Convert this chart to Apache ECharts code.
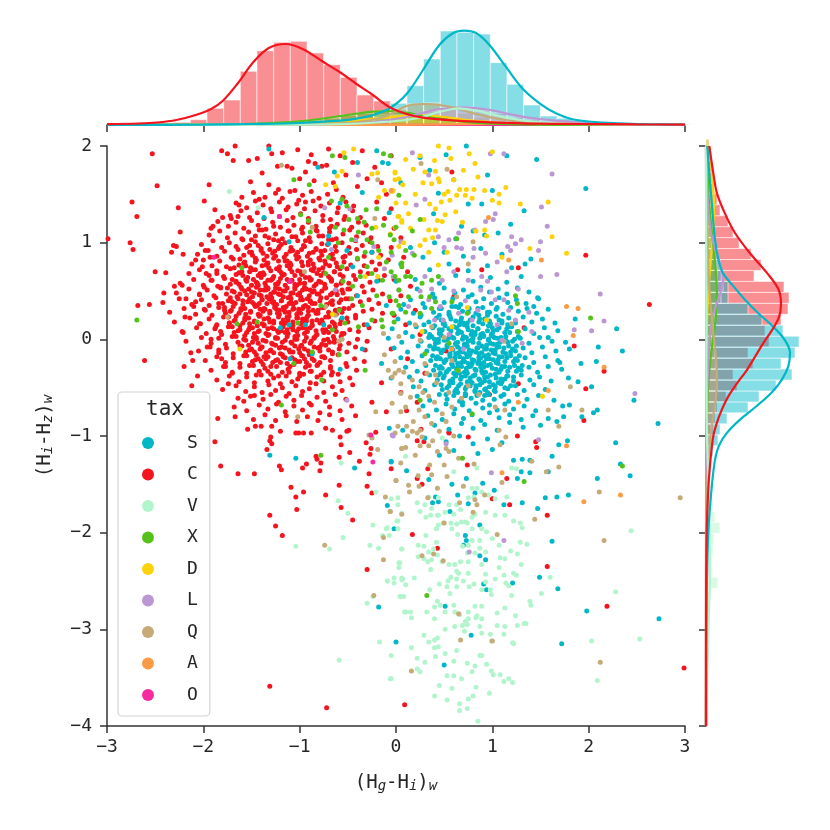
<!DOCTYPE html>
<html><head><meta charset="utf-8">
<script src="https://cdn.jsdelivr.net/npm/echarts@6/dist/echarts.min.js"></script>
<style>html,body{margin:0;padding:0;background:#fff}#c{width:830px;height:830px}</style>
</head><body><div id="c"></div>
<script>
// ---------- categories & ticks ----------
const categories = ['S','C','V','X','D','L','Q','A','O'];
const xTicks = [-3,-2,-1,0,1,2,3];
const yTicks = [-4,-3,-2,-1,0,1,2];

// ---------- scatter points (flat x,y lists) ----------
const pts_C = [
-2.53,1.92,-2.48,1.59,-2.74,1.42,-2.69,1.27,-2.26,1.36,-2.99,1.04,-2.76,1.0,-2.73,0.93,-2.24,1.11,-2.33,0.9,-2.31,0.97,-2.28,0.96,-2.21,0.88,-2.50,0.70,-2.39,0.69,-2.68,0.35,-2.56,0.36,-2.41,0.48,-2.30,0.55,-2.22,0.56,-2.18,0.42,-2.19,0.23,-2.21,0.07,-2.61,-0.22,-2.20,-0.28,-2.13,-0.14,-2.11,-0.22,-2.12,-0.48,-2.06,-0.38,-1.99,1.43,-1.94,1.60,-1.88,1.34,-1.81,1.95,-1.75,1.92,-1.67,2.0,-1.69,1.85,-1.80,1.26,-1.90,1.17,-1.92,1.15,-1.71,1.25,-1.64,1.27,-2.08,0.82,-1.98,0.92,-1.93,0.85,-2.01,0.75,-1.97,0.68,-1.99,0.54,-2.04,0.47,-2.08,0.39,-2.10,0.34,-2.04,0.16,-1.92,0.0,-1.96,-0.08,-1.84,-0.11,-1.86,0.68,-1.82,0.54,-1.91,0.61,-1.98,0.30,-1.84,0.37,-1.78,0.30,-1.73,0.17,-1.87,0.13,-1.82,0.08,-1.81,-0.20,-1.77,-0.28,-1.70,-0.35,-1.74,-0.46,-1.85,-0.82,-1.68,-0.70,-1.67,-0.80,-1.64,-0.61,-1.51,-0.59,-1.53,1.85,-1.44,1.87,-1.29,1.92,-1.32,2.0,-1.51,1.63,-1.39,1.72,-1.32,1.60,-1.22,1.55,-1.60,1.47,-1.63,1.39,-1.23,1.79,-1.13,1.79,-1.08,1.77,-0.94,1.73,-0.91,1.84,-0.77,1.79,-0.72,1.80,-0.84,1.82,-1.10,1.53,-1.01,1.44,-0.94,1.42,
-1.18,1.93,-1.02,1.96,-0.88,1.91,-0.70,1.97,
-1.54,-0.93,-1.46,-0.90,-1.40,-0.90,-1.29,-0.90,-1.20,-0.95,-1.04,-0.97,-1.01,-0.97,-0.96,-0.97,-0.88,-0.97,-1.30,-1.01,-1.29,-1.08,-1.31,-1.05,-1.88,-1.06,-1.82,-1.31,-1.64,-1.39,-1.47,-1.39,-1.34,-1.14,-1.21,-1.31,-1.19,-1.35,-1.09,-1.53,-1.04,-1.63,-0.96,-1.58,-1.03,-1.76,-1.31,-1.82,-1.25,-1.93,-1.18,-2.03,-0.97,-1.33,-0.93,-1.29,-0.83,-1.21,-0.82,-1.24,-0.78,-1.28,-0.79,-1.36,-0.73,-0.92,-0.66,-0.94,-0.58,-1.01,-0.57,-1.09,-0.59,-1.22,-0.48,-1.17,-0.51,-0.95,-0.49,-0.94,-0.38,-1.26,-0.73,-1.61,-0.59,-1.51,-0.57,-1.74,-0.45,-1.87,-0.30,-1.52,-0.25,-1.59,-0.28,-1.39,-0.27,-1.19,-0.26,-1.13,-0.31,-1.07,-0.21,-0.96,-0.05,-1.34,-0.30,-2.38,-1.31,-3.59,-0.72,-3.81,0.09,-3.78,
0.26,-0.93,0.55,-0.96,0.75,-1.01,1.26,-1.0,1.45,-1.06,1.46,-1.12,0.22,-1.05,0.29,-1.06,0.22,-1.44,0.27,-1.50,0.33,-1.34,0.74,-1.30,1.15,-1.44,1.18,-1.71,1.0,-1.65,1.57,-1.82,0.17,-2.02,0.43,-2.16,1.57,-2.35,2.19,-2.76,2.99,-3.40,-0.05,1.90,0.58,1.73,1.97,0.87,2.63,0.36,1.27,0.74,0.89,0.72,0.64,0.72,0.60,0.44,1.33,0.12,1.85,-0.07,2.16,-0.33,1.97,-0.51,1.95,-0.84,1.27,-0.46,0.97,-0.57,0.52,-0.12,0.72,-0.58,0.55,-0.97,0.11,-0.74,
-0.65,1.62,-0.52,1.70,-0.40,1.58,-0.30,1.66,-0.85,1.64,-1.00,1.66,-0.58,1.90,-0.45,1.83,-0.35,1.95,-0.22,1.78,-0.15,1.62,-0.10,1.50,-0.20,1.42,-0.05,1.35,-0.12,1.25,-0.02,1.15,0.05,1.05,-0.05,0.95,0.08,0.85,0.12,0.70,-0.02,0.62,0.15,0.55,0.05,0.45,0.20,0.30,-0.02,0.25,0.10,0.15,0.25,0.05,-0.05,-0.10,0.12,-0.20,0.30,-0.35,-0.15,-0.45,0.05,-0.55,0.22,-0.65,-0.25,-0.65,-0.10,-0.75,
-1.48,1.52,-1.36,1.47,-1.25,1.51,-1.18,1.46,-1.05,1.54,-0.97,1.49,-0.88,1.53,-0.80,1.46,-0.71,1.50,-0.62,1.55,-0.55,1.47,-1.42,1.45,
-1.66,1.41,-1.55,1.36,-1.46,1.43,-1.38,1.39,-1.30,1.35,-1.21,1.42,-1.12,1.37,-1.03,1.40,-0.95,1.35,-0.86,1.43,-0.78,1.38,-0.69,1.41,-0.60,1.36,-0.52,1.42,-0.44,1.38,
-1.72,1.28,-1.61,1.33,-1.52,1.26,-1.44,1.31,-1.37,1.25,-1.29,1.32,-1.21,1.27,-1.14,1.34,-1.07,1.26,-0.99,1.30,-0.91,1.25,-0.84,1.33,-0.76,1.28,-0.68,1.24,-0.61,1.31,-0.53,1.27,-0.45,1.33,-0.37,1.26,
-1.85,1.22,-1.74,1.17,-1.66,1.21,-1.58,1.15,-1.50,1.23,-1.43,1.18,-1.35,1.14,-1.28,1.21,-1.20,1.16,-1.13,1.23,-1.06,1.18,-0.98,1.14,-0.91,1.21,-0.83,1.17,-0.76,1.23,-0.69,1.15,-0.61,1.19,-0.54,1.24,-0.46,1.16,-0.39,1.21,-0.31,1.18,
-1.94,1.08,-1.83,1.12,-1.75,1.05,-1.67,1.10,-1.60,1.04,-1.53,1.11,-1.46,1.07,-1.39,1.13,-1.32,1.05,-1.25,1.09,-1.18,1.04,-1.11,1.12,-1.04,1.06,-0.97,1.10,-0.90,1.05,-0.83,1.13,-0.76,1.07,-0.69,1.11,-0.62,1.04,-0.55,1.09,-0.48,1.13,-0.41,1.06,-0.34,1.10,-0.26,1.05,
-2.02,0.98,-1.90,1.02,-1.81,0.95,-1.73,1.00,-1.66,0.96,-1.59,1.03,-1.52,0.97,-1.46,1.01,-1.40,0.94,-1.33,0.99,-1.27,1.03,-1.21,0.96,-1.15,1.00,-1.09,0.95,-1.02,1.02,-0.96,0.97,-0.89,1.01,-0.83,0.94,-0.77,0.99,-0.70,1.03,-0.63,0.96,-0.56,1.00,-0.49,0.95,-0.42,1.02,-0.35,0.97,-0.27,1.01,-0.19,0.96,
-2.06,0.88,-1.95,0.92,-1.86,0.86,-1.78,0.91,-1.71,0.85,-1.64,0.93,-1.58,0.87,-1.52,0.90,-1.46,0.84,-1.40,0.92,-1.34,0.86,-1.28,0.89,-1.22,0.94,-1.16,0.85,-1.10,0.91,-1.04,0.87,-0.98,0.93,-0.92,0.86,-0.86,0.90,-0.80,0.84,-0.74,0.92,-0.68,0.87,-0.62,0.91,-0.55,0.85,-0.48,0.89,-0.41,0.93,-0.33,0.86,-0.25,0.90,-0.16,0.87,
-2.12,0.78,-2.00,0.82,-1.91,0.76,-1.83,0.81,-1.76,0.75,-1.69,0.83,-1.63,0.77,-1.57,0.80,-1.51,0.74,-1.45,0.82,-1.39,0.76,-1.33,0.79,-1.27,0.84,-1.21,0.75,-1.15,0.81,-1.09,0.77,-1.03,0.83,-0.97,0.76,-0.91,0.80,-0.85,0.74,-0.79,0.82,-0.73,0.78,-0.67,0.84,-0.61,0.75,-0.54,0.80,-0.47,0.77,-0.40,0.83,-0.33,0.76,-0.25,0.80,-0.17,0.78,-0.08,0.82,
-2.15,0.68,-2.04,0.72,-1.94,0.66,-1.86,0.71,-1.79,0.65,-1.72,0.73,-1.66,0.67,-1.60,0.70,-1.54,0.64,-1.49,0.72,-1.43,0.66,-1.38,0.69,-1.32,0.74,-1.27,0.65,-1.21,0.71,-1.16,0.67,-1.10,0.73,-1.05,0.66,-0.99,0.70,-0.94,0.64,-0.88,0.72,-0.82,0.68,-0.76,0.74,-0.70,0.65,-0.64,0.70,-0.58,0.67,-0.51,0.73,-0.44,0.66,-0.37,0.70,-0.29,0.68,-0.21,0.72,-0.12,0.66,
-2.24,0.58,-2.10,0.62,-2.00,0.56,-1.92,0.61,-1.85,0.55,-1.78,0.63,-1.72,0.57,-1.66,0.60,-1.61,0.54,-1.56,0.62,-1.50,0.56,-1.45,0.59,-1.40,0.64,-1.35,0.55,-1.30,0.61,-1.25,0.57,-1.20,0.63,-1.15,0.56,-1.10,0.60,-1.05,0.54,-1.00,0.62,-0.95,0.58,-0.90,0.64,-0.85,0.55,-0.80,0.60,-0.74,0.57,-0.68,0.63,-0.62,0.56,-0.56,0.60,-0.49,0.58,-0.42,0.62,-0.35,0.55,-0.27,0.59,-0.18,0.61,
-2.28,0.48,-2.15,0.52,-2.04,0.46,-1.96,0.51,-1.89,0.45,-1.82,0.53,-1.76,0.47,-1.70,0.50,-1.65,0.44,-1.60,0.52,-1.55,0.46,-1.50,0.49,-1.45,0.54,-1.40,0.45,-1.35,0.51,-1.30,0.47,-1.25,0.53,-1.20,0.46,-1.15,0.50,-1.10,0.44,-1.05,0.52,-1.00,0.48,-0.95,0.54,-0.90,0.45,-0.85,0.50,-0.80,0.47,-0.74,0.53,-0.68,0.46,-0.62,0.50,-0.55,0.48,-0.48,0.52,-0.41,0.45,-0.33,0.49,-0.24,0.51,-0.14,0.47,
-2.42,0.38,-2.25,0.42,-2.12,0.36,-2.02,0.41,-1.94,0.35,-1.87,0.43,-1.80,0.37,-1.74,0.40,-1.69,0.34,-1.64,0.42,-1.59,0.36,-1.54,0.39,-1.49,0.44,-1.44,0.35,-1.39,0.41,-1.34,0.37,-1.29,0.43,-1.24,0.36,-1.19,0.40,-1.14,0.34,-1.09,0.42,-1.04,0.38,-0.99,0.44,-0.94,0.35,-0.89,0.40,-0.84,0.37,-0.78,0.43,-0.72,0.36,-0.66,0.40,-0.59,0.38,-0.52,0.42,-0.45,0.35,-0.37,0.39,-0.28,0.41,-0.18,0.37,-0.06,0.40,
-2.35,0.28,-2.20,0.32,-2.08,0.26,-1.99,0.31,-1.91,0.25,-1.84,0.33,-1.77,0.27,-1.71,0.30,-1.66,0.24,-1.61,0.32,-1.56,0.26,-1.51,0.29,-1.46,0.34,-1.41,0.25,-1.36,0.31,-1.31,0.27,-1.26,0.33,-1.21,0.26,-1.16,0.30,-1.11,0.24,-1.06,0.32,-1.01,0.28,-0.96,0.34,-0.91,0.25,-0.86,0.30,-0.81,0.27,-0.75,0.33,-0.69,0.26,-0.63,0.30,-0.56,0.28,-0.49,0.32,-0.42,0.25,-0.34,0.29,-0.25,0.31,-0.14,0.27,
-2.30,0.18,-2.14,0.22,-2.03,0.16,-1.94,0.21,-1.86,0.15,-1.79,0.23,-1.73,0.17,-1.67,0.20,-1.62,0.14,-1.57,0.22,-1.52,0.16,-1.47,0.19,-1.42,0.24,-1.37,0.15,-1.32,0.21,-1.27,0.17,-1.22,0.23,-1.17,0.16,-1.12,0.20,-1.07,0.14,-1.02,0.22,-0.97,0.18,-0.92,0.24,-0.87,0.15,-0.82,0.20,-0.76,0.17,-0.70,0.23,-0.64,0.16,-0.57,0.20,-0.50,0.18,-0.42,0.22,-0.33,0.15,-0.22,0.19,
-2.22,0.08,-2.07,0.12,-1.97,0.06,-1.88,0.11,-1.81,0.05,-1.74,0.13,-1.68,0.07,-1.62,0.10,-1.57,0.04,-1.52,0.12,-1.47,0.06,-1.42,0.09,-1.37,0.14,-1.32,0.05,-1.27,0.11,-1.22,0.07,-1.17,0.13,-1.12,0.06,-1.07,0.10,-1.02,0.04,-0.97,0.12,-0.92,0.08,-0.87,0.14,-0.82,0.05,-0.76,0.10,-0.70,0.07,-0.63,0.13,-0.56,0.06,-0.48,0.10,-0.39,0.08,-0.28,0.12,
-2.18,-0.02,-2.02,0.02,-1.92,-0.04,-1.84,0.01,-1.77,-0.05,-1.70,0.03,-1.64,-0.03,-1.58,0.00,-1.53,-0.06,-1.48,0.02,-1.43,-0.04,-1.38,-0.01,-1.33,0.04,-1.28,-0.05,-1.23,0.01,-1.18,-0.03,-1.13,0.03,-1.08,-0.04,-1.03,0.00,-0.98,-0.06,-0.93,0.02,-0.88,-0.02,-0.83,0.04,-0.77,-0.05,-0.71,0.00,-0.64,-0.03,-0.57,0.03,-0.49,-0.04,-0.40,0.00,-0.30,-0.02,
-2.05,-0.12,-1.93,-0.08,-1.84,-0.14,-1.76,-0.09,-1.69,-0.15,-1.62,-0.07,-1.56,-0.13,-1.50,-0.10,-1.45,-0.16,-1.40,-0.08,-1.35,-0.14,-1.30,-0.11,-1.25,-0.06,-1.20,-0.15,-1.15,-0.09,-1.10,-0.13,-1.05,-0.07,-1.00,-0.14,-0.95,-0.10,-0.90,-0.16,-0.85,-0.08,-0.79,-0.12,-0.73,-0.06,-0.66,-0.15,-0.59,-0.10,-0.51,-0.13,-0.42,-0.08,-0.32,-0.11,
-1.98,-0.22,-1.86,-0.18,-1.77,-0.24,-1.69,-0.19,-1.62,-0.25,-1.55,-0.17,-1.49,-0.23,-1.43,-0.20,-1.38,-0.26,-1.33,-0.18,-1.28,-0.24,-1.23,-0.21,-1.18,-0.16,-1.13,-0.25,-1.08,-0.19,-1.03,-0.23,-0.98,-0.17,-0.93,-0.24,-0.87,-0.20,-0.81,-0.26,-0.75,-0.18,-0.68,-0.22,-0.60,-0.16,-0.52,-0.25,-0.43,-0.20,-0.33,-0.23,
-1.92,-0.32,-1.79,-0.28,-1.70,-0.34,-1.62,-0.29,-1.55,-0.35,-1.48,-0.27,-1.42,-0.33,-1.36,-0.30,-1.30,-0.36,-1.24,-0.28,-1.18,-0.34,-1.12,-0.31,-1.06,-0.26,-1.00,-0.35,-0.94,-0.29,-0.88,-0.33,-0.82,-0.27,-0.75,-0.34,-0.68,-0.30,-0.60,-0.36,-0.51,-0.28,-0.41,-0.32,
-1.86,-0.42,-1.73,-0.38,-1.63,-0.44,-1.55,-0.39,-1.47,-0.45,-1.40,-0.37,-1.33,-0.43,-1.27,-0.40,-1.20,-0.46,-1.14,-0.38,-1.08,-0.44,-1.02,-0.41,-0.96,-0.36,-0.89,-0.45,-0.82,-0.39,-0.75,-0.43,-0.67,-0.37,-0.58,-0.44,-0.48,-0.40,
-1.80,-0.52,-1.66,-0.48,-1.56,-0.54,-1.47,-0.49,-1.39,-0.55,-1.32,-0.47,-1.25,-0.53,-1.18,-0.50,-1.11,-0.56,-1.04,-0.48,-0.97,-0.54,-0.90,-0.51,-0.83,-0.46,-0.75,-0.55,-0.66,-0.49,-0.56,-0.53,-0.45,-0.47,
-1.58,-0.64,-1.47,-0.58,-1.38,-0.62,-1.30,-0.57,-1.22,-0.65,-1.14,-0.59,-1.06,-0.63,-0.98,-0.58,-0.90,-0.66,-0.82,-0.60,-0.73,-0.64,-0.63,-0.57,-0.52,-0.62,
-1.55,-0.74,-1.42,-0.68,-1.33,-0.72,-1.24,-0.67,-1.15,-0.75,-1.06,-0.69,-0.97,-0.73,-0.88,-0.68,-0.79,-0.76,-0.69,-0.70,-0.58,-0.74,-0.46,-0.69,
-1.48,-0.83,-1.36,-0.78,-1.25,-0.84,-1.14,-0.79,-1.03,-0.85,-0.92,-0.80,-0.81,-0.84,-0.69,-0.78,-0.56,-0.83,-0.42,-0.79,
-1.55,0.95,-1.43,0.97,-1.31,0.93,-1.19,0.98,-1.07,0.92,-0.95,0.96,-0.83,0.93,-0.71,0.98,
-1.62,0.83,-1.49,0.87,-1.37,0.82,-1.25,0.86,-1.13,0.81,-1.01,0.85,-0.89,0.82,-0.77,0.87,-0.65,0.83,-0.53,0.86,
-1.68,0.74,-1.56,0.76,-1.46,0.72,-1.35,0.77,-1.24,0.73,-1.13,0.76,-1.02,0.71,-0.91,0.77,-0.80,0.72,-0.69,0.76,-0.58,0.73,
-1.70,0.62,-1.59,0.66,-1.48,0.62,-1.37,0.67,-1.28,0.63,-1.18,0.66,-1.08,0.61,-0.98,0.67,-0.88,0.62,-0.78,0.66,-0.67,0.62,-0.55,0.65,
-1.75,0.53,-1.63,0.57,-1.53,0.52,-1.43,0.56,-1.33,0.52,-1.23,0.57,-1.13,0.53,-1.03,0.56,-0.93,0.52,-0.83,0.57,-0.73,0.53,-0.62,0.56,-0.50,0.52,
-1.72,0.43,-1.62,0.47,-1.52,0.42,-1.42,0.46,-1.32,0.42,-1.22,0.47,-1.12,0.43,-1.02,0.46,-0.92,0.42,-0.82,0.47,-0.72,0.43,-0.61,0.46,-0.49,0.42,
-1.78,0.33,-1.67,0.37,-1.57,0.32,-1.47,0.36,-1.37,0.32,-1.27,0.37,-1.17,0.33,-1.07,0.36,-0.97,0.32,-0.87,0.37,-0.77,0.33,-0.66,0.36,-0.54,0.32,
-1.74,0.23,-1.63,0.27,-1.53,0.22,-1.43,0.26,-1.33,0.22,-1.23,0.27,-1.13,0.23,-1.03,0.26,-0.93,0.22,-0.83,0.27,-0.73,0.23,-0.62,0.26,-0.51,0.22,
-1.70,0.13,-1.59,0.17,-1.49,0.12,-1.39,0.16,-1.29,0.12,-1.19,0.17,-1.09,0.13,-0.99,0.16,-0.89,0.12,-0.79,0.17,-0.69,0.13,-0.58,0.16,
-1.66,0.03,-1.55,0.07,-1.45,0.02,-1.35,0.06,-1.25,0.02,-1.15,0.07,-1.05,0.03,-0.95,0.06,-0.85,0.02,-0.75,0.07,-0.65,0.03,-0.54,0.06,
-1.60,-0.07,-1.49,-0.03,-1.39,-0.08,-1.29,-0.04,-1.19,-0.08,-1.09,-0.03,-0.99,-0.07,-0.89,-0.04,-0.79,-0.08,-0.69,-0.03,-0.58,-0.06,
-1.58,-0.17,-1.47,-0.13,-1.37,-0.18,-1.27,-0.14,-1.17,-0.18,-1.07,-0.13,-0.97,-0.17,-0.87,-0.14,-0.77,-0.18,-0.66,-0.13,
-1.52,-0.27,-1.40,-0.23,-1.30,-0.28,-1.20,-0.24,-1.10,-0.28,-1.00,-0.23,-0.90,-0.27,-0.79,-0.24,-0.68,-0.28,
-1.45,-0.37,-1.33,-0.33,-1.22,-0.38,-1.11,-0.34,-1.00,-0.38,-0.89,-0.33,-0.78,-0.37,-0.66,-0.34,
-1.50,1.03,-1.36,1.07,-1.22,1.02,-1.08,1.06,-0.94,1.02,-0.80,1.07,-0.66,1.03,
-1.42,1.13,-1.27,1.17,-1.12,1.12,-0.97,1.16,-0.82,1.12,-0.67,1.17,
-1.41,0.51,-1.34,0.44,-1.27,0.39,-1.21,0.52,-1.15,0.28,-1.09,0.48,-1.03,0.22,-0.97,0.41,-0.91,0.33,-1.38,0.29,-1.31,0.18,-1.24,0.31,-1.17,0.44,-1.11,0.37,-1.05,0.57,-0.99,0.27,-0.93,0.19,-1.44,0.14,-1.36,0.58,-1.29,0.62,-1.19,0.09,-1.13,0.62,-1.01,0.11,-0.89,0.51,-1.26,0.49,-1.14,0.17,-1.07,0.31,-0.95,0.58,-1.42,0.37,-1.33,0.53,
-1.50,0.90,-1.38,0.89,-1.26,0.91,-1.14,0.88,-1.02,0.90,-0.90,0.89,-0.78,0.91,-0.66,0.88,
-1.58,0.79,-1.46,0.80,-1.34,0.78,-1.22,0.81,-1.10,0.79,-0.98,0.80,-0.86,0.78,-0.74,0.81,-0.62,0.79,
-1.63,0.69,-1.52,0.70,-1.41,0.68,-1.30,0.71,-1.19,0.69,-1.08,0.70,-0.97,0.68,-0.86,0.71,-0.75,0.69,-0.64,0.70,
-1.66,0.59,-1.55,0.60,-1.44,0.58,-1.33,0.61,-1.22,0.59,-1.11,0.60,-1.00,0.58,-0.89,0.61,-0.78,0.59,-0.67,0.60,-0.57,0.58,
-1.68,0.49,-1.57,0.50,-1.47,0.48,-1.37,0.51,-1.27,0.49,-1.17,0.50,-1.07,0.48,-0.97,0.51,-0.87,0.49,-0.77,0.50,-0.66,0.48,-0.56,0.51,
-1.70,0.39,-1.59,0.40,-1.49,0.38,-1.39,0.41,-1.29,0.39,-1.19,0.40,-1.09,0.38,-0.99,0.41,-0.89,0.39,-0.79,0.40,-0.68,0.38,-0.57,0.41,
-1.72,0.29,-1.61,0.30,-1.51,0.28,-1.41,0.31,-1.31,0.29,-1.21,0.30,-1.11,0.28,-1.01,0.31,-0.91,0.29,-0.81,0.30,-0.70,0.28,-0.59,0.31,
-1.68,0.19,-1.57,0.20,-1.47,0.18,-1.37,0.21,-1.27,0.19,-1.17,0.20,-1.07,0.18,-0.97,0.21,-0.87,0.19,-0.77,0.20,-0.66,0.18,
-1.64,0.09,-1.53,0.10,-1.43,0.08,-1.33,0.11,-1.23,0.09,-1.13,0.10,-1.03,0.08,-0.93,0.11,-0.83,0.09,-0.73,0.10,-0.62,0.08,
-1.56,-0.01,-1.45,0.00,-1.35,-0.02,-1.25,0.01,-1.15,-0.01,-1.05,0.00,-0.95,-0.02,-0.85,0.01,-0.75,-0.01,-0.64,0.00,
-1.52,-0.11,-1.41,-0.10,-1.31,-0.12,-1.21,-0.09,-1.11,-0.11,-1.01,-0.10,-0.91,-0.12,-0.81,-0.09,-0.70,-0.11,
-1.46,-0.21,-1.35,-0.20,-1.25,-0.22,-1.15,-0.19,-1.05,-0.21,-0.95,-0.20,-0.85,-0.22,-0.74,-0.19
];
const pts_S = [
0.73,2.0,1.46,1.86,1.97,1.56,0.52,1.91,1.33,1.33,1.19,1.19,1.0,1.54,0.89,1.40,0.75,1.40,0.44,1.51,0.39,1.30,0.68,1.17,0.92,1.08,1.06,1.10,1.40,0.83,1.34,0.78,1.47,0.43,1.43,0.34,1.58,0.02,1.86,0.21,1.76,-0.03,1.80,-0.10,2.10,-0.08,2.29,0.11,2.35,-0.12,1.92,-0.25,2.08,-0.23,1.70,-0.24,1.79,-0.40,1.89,-0.44,2.03,-0.49,1.64,-0.63,1.73,-0.69,1.80,-0.68,2.05,-0.76,2.09,-0.73,1.93,-0.80,2.47,-0.63,2.72,-0.87,1.58,-0.82,1.50,-0.89,1.74,-0.80,1.67,-0.85,
2.28,-1.07,2.33,-1.29,2.43,-1.41,2.09,-1.44,1.79,-1.61,1.67,-1.63,1.55,-1.64,1.47,-1.75,1.31,-1.69,1.12,-1.71,1.62,-2.09,1.49,-2.46,1.68,-2.58,1.98,-2.81,2.73,-2.89,1.72,-3.15,1.21,-2.52,0.91,-2.53,0.94,-2.59,0.93,-2.28,0.87,-2.24,0.72,-2.03,0.73,-2.08,0.70,-2.13,0.87,-1.92,0.56,-1.78,0.51,-2.76,0.78,-3.06,0.0,-3.13,0.50,-3.37,-0.02,-1.96,-0.09,-1.72,-0.05,-1.26,0.11,-1.36,0.34,-1.45,0.41,-1.63,0.44,-1.68,0.38,-1.69,0.64,-1.61,0.75,-1.70,0.82,-1.59,1.02,-1.56,0.90,-1.49,0.73,-1.44,0.58,-1.50,1.30,-1.37,1.39,-1.38,1.26,-1.44,1.58,-1.37,1.69,-1.09,1.78,-1.05,1.62,-1.21,1.39,-1.25,1.31,-1.24,1.22,-1.25,
-1.31,-1.20,-1.04,-1.23,-0.43,-1.33,-0.07,-0.92,0.07,-0.94,-0.05,-1.27,-0.18,-2.77,
-1.32,1.97,-1.37,1.26,-1.11,1.01,-0.81,1.78,-0.64,1.73,-0.58,1.41,-0.40,1.83,-0.35,1.52,-0.14,1.83,-0.08,1.82,-0.07,1.31,-0.70,1.07,-0.70,0.99,-0.51,0.92,-1.11,0.15,-1.20,0.12,-1.10,-0.20,-0.94,0.15,-0.87,-0.15,-0.58,-0.31,-0.56,0.22,-0.75,0.15,
0.22,0.52,0.38,0.47,0.50,0.53,0.61,0.48,0.70,0.51,0.79,0.46,0.88,0.54,0.97,0.49,1.06,0.52,1.15,0.47,1.26,0.53,1.38,0.49,
0.15,0.41,0.28,0.37,0.40,0.43,0.50,0.38,0.59,0.42,0.67,0.36,0.75,0.44,0.83,0.39,0.91,0.42,0.99,0.37,1.07,0.43,1.16,0.38,1.25,0.41,1.35,0.37,1.48,0.42,0.08,0.36,
0.05,0.31,0.18,0.27,0.30,0.33,0.39,0.28,0.47,0.32,0.55,0.26,0.62,0.34,0.69,0.29,0.76,0.32,0.83,0.27,0.90,0.33,0.97,0.28,1.04,0.31,1.11,0.26,1.19,0.33,1.27,0.29,1.36,0.32,1.46,0.27,1.58,0.31,0.26,0.25,0.58,0.34,0.86,0.25,
0.02,0.21,0.14,0.17,0.25,0.23,0.34,0.18,0.42,0.22,0.49,0.16,0.56,0.24,0.62,0.19,0.68,0.22,0.74,0.17,0.80,0.23,0.86,0.18,0.92,0.21,0.98,0.16,1.04,0.24,1.10,0.19,1.17,0.22,1.24,0.17,1.32,0.23,1.41,0.18,1.52,0.21,1.65,0.17,0.45,0.25,0.71,0.15,0.95,0.25,0.29,0.15,
-0.04,0.11,0.10,0.07,0.21,0.13,0.30,0.08,0.38,0.12,0.45,0.06,0.51,0.14,0.57,0.09,0.63,0.12,0.68,0.07,0.74,0.13,0.79,0.08,0.85,0.11,0.90,0.06,0.96,0.14,1.01,0.09,1.07,0.12,1.13,0.07,1.19,0.13,1.26,0.08,1.34,0.11,1.43,0.06,1.54,0.12,1.68,0.09,0.48,0.10,0.66,0.15,0.82,0.05,0.99,0.04,0.35,0.05,1.16,0.15,
-0.08,0.01,0.06,-0.03,0.17,0.03,0.26,-0.02,0.34,0.02,0.41,-0.04,0.47,0.04,0.53,-0.01,0.59,0.02,0.64,-0.03,0.70,0.03,0.75,-0.02,0.80,0.01,0.86,-0.04,0.91,0.04,0.96,-0.01,1.02,0.02,1.08,-0.03,1.14,0.03,1.21,-0.02,1.29,0.01,1.38,-0.04,1.49,0.02,1.62,-0.02,0.56,0.05,0.73,-0.05,0.88,0.05,0.44,0.00,1.05,-0.05,0.62,-0.05,0.78,0.05,0.99,0.05,
-0.02,-0.09,0.12,-0.13,0.23,-0.07,0.32,-0.12,0.40,-0.08,0.47,-0.14,0.53,-0.06,0.59,-0.11,0.64,-0.08,0.69,-0.13,0.74,-0.07,0.79,-0.12,0.84,-0.09,0.89,-0.14,0.94,-0.06,0.99,-0.11,1.05,-0.08,1.11,-0.13,1.17,-0.07,1.24,-0.12,1.32,-0.09,1.41,-0.14,1.52,-0.08,1.66,-0.12,0.56,-0.15,0.71,-0.05,0.86,-0.15,1.01,-0.05,0.44,-0.10,0.62,-0.15,0.77,-0.15,0.92,-0.10,1.14,-0.15,
0.05,-0.19,0.17,-0.23,0.27,-0.17,0.36,-0.22,0.43,-0.18,0.50,-0.24,0.56,-0.16,0.61,-0.21,0.66,-0.18,0.71,-0.23,0.76,-0.17,0.81,-0.22,0.86,-0.19,0.91,-0.24,0.96,-0.16,1.01,-0.21,1.07,-0.18,1.13,-0.23,1.19,-0.17,1.26,-0.22,1.34,-0.19,1.43,-0.24,1.55,-0.18,1.68,-0.22,0.58,-0.25,0.73,-0.15,0.88,-0.25,1.03,-0.15,0.46,-0.20,0.64,-0.25,0.79,-0.25,0.94,-0.20,
0.10,-0.29,0.22,-0.33,0.31,-0.27,0.39,-0.32,0.46,-0.28,0.52,-0.34,0.58,-0.26,0.63,-0.31,0.68,-0.28,0.73,-0.33,0.78,-0.27,0.83,-0.32,0.88,-0.29,0.93,-0.34,0.98,-0.26,1.04,-0.31,1.10,-0.28,1.16,-0.33,1.23,-0.27,1.30,-0.32,1.38,-0.29,1.47,-0.34,1.58,-0.28,1.72,-0.31,0.60,-0.35,0.75,-0.25,0.90,-0.35,1.06,-0.25,0.48,-0.30,0.66,-0.35,0.85,-0.25,
0.14,-0.39,0.26,-0.43,0.35,-0.37,0.43,-0.42,0.50,-0.38,0.56,-0.44,0.62,-0.36,0.67,-0.41,0.72,-0.38,0.77,-0.43,0.82,-0.37,0.87,-0.42,0.92,-0.39,0.97,-0.44,1.03,-0.36,1.09,-0.41,1.15,-0.38,1.22,-0.43,1.30,-0.37,1.39,-0.42,1.49,-0.39,1.61,-0.43,0.59,-0.45,0.74,-0.35,0.89,-0.45,1.06,-0.45,0.46,-0.35,
0.18,-0.49,0.30,-0.53,0.40,-0.47,0.48,-0.52,0.55,-0.48,0.61,-0.54,0.67,-0.46,0.72,-0.51,0.77,-0.48,0.82,-0.53,0.87,-0.47,0.92,-0.52,0.97,-0.49,1.03,-0.54,1.09,-0.46,1.16,-0.51,1.24,-0.48,1.33,-0.53,1.43,-0.47,1.55,-0.52,0.64,-0.55,0.79,-0.45,0.95,-0.55,
0.22,-0.59,0.35,-0.63,0.45,-0.57,0.53,-0.62,0.60,-0.58,0.66,-0.64,0.72,-0.56,0.78,-0.61,0.84,-0.58,0.90,-0.63,0.96,-0.57,1.02,-0.62,1.09,-0.59,1.17,-0.64,1.26,-0.57,1.36,-0.62,1.48,-0.58,0.69,-0.65,0.87,-0.55,
0.28,-0.69,0.42,-0.73,0.52,-0.67,0.61,-0.72,0.69,-0.68,0.76,-0.74,0.83,-0.66,0.90,-0.71,0.97,-0.68,1.05,-0.73,1.13,-0.67,1.22,-0.72,1.33,-0.69,1.45,-0.74,
0.33,-0.79,0.48,-0.83,0.60,-0.77,0.70,-0.82,0.79,-0.78,0.88,-0.84,0.97,-0.76,1.07,-0.81,1.18,-0.78,1.30,-0.83,1.42,-0.79,
0.40,-0.89,0.55,-0.93,0.68,-0.87,0.80,-0.92,0.92,-0.88,1.05,-0.94,1.18,-0.86,1.32,-0.91,
0.30,-1.02,0.52,-1.06,0.66,-1.00,0.80,-1.08,0.95,-1.03,1.10,-1.07,0.60,-1.15,0.85,-1.18,1.00,-1.14,0.45,-1.20,
0.20,0.62,0.45,0.58,0.62,0.66,0.80,0.60,0.98,0.64,1.15,0.59,1.30,0.65,0.35,0.72,0.55,0.78,0.75,0.71,0.95,0.76,1.20,0.74,0.28,0.85,0.50,0.90,0.70,0.86,0.88,0.94,1.10,0.88,0.40,1.00,0.62,1.04,0.80,1.12,0.15,0.95,0.05,0.78,
-0.40,0.45,-0.30,0.15,-0.20,0.60,-0.10,0.35,-0.35,-0.10,-0.15,-0.25,-0.45,0.75,-0.25,0.90,0.00,0.60,-0.05,-0.40,
0.60,1.65,0.35,1.75,0.25,1.88,0.95,1.70,1.15,1.90,0.05,1.62,-0.20,1.95,
0.40,0.14,0.50,0.17,0.60,0.13,0.70,0.17,0.80,0.14,0.90,0.16,1.00,0.12,1.10,0.17,1.20,0.13,
0.37,0.03,0.46,0.07,0.55,0.02,0.64,0.06,0.73,0.02,0.82,0.07,0.91,0.03,1.00,0.06,1.09,0.02,1.18,0.07,1.27,0.03,
0.35,-0.07,0.44,-0.03,0.53,-0.08,0.62,-0.04,0.71,-0.08,0.80,-0.03,0.89,-0.07,0.98,-0.04,1.07,-0.08,1.16,-0.03,1.25,-0.07,
0.38,-0.17,0.47,-0.13,0.56,-0.18,0.65,-0.14,0.74,-0.18,0.83,-0.13,0.92,-0.17,1.01,-0.14,1.10,-0.18,1.19,-0.13,1.28,-0.17,
0.41,-0.27,0.50,-0.23,0.59,-0.28,0.68,-0.24,0.77,-0.28,0.86,-0.23,0.95,-0.27,1.04,-0.24,1.13,-0.28,1.22,-0.23,1.31,-0.27,
0.44,-0.37,0.53,-0.33,0.62,-0.38,0.71,-0.34,0.80,-0.38,0.89,-0.33,0.98,-0.37,1.07,-0.34,1.16,-0.38,1.25,-0.33,
0.47,-0.47,0.56,-0.43,0.65,-0.48,0.74,-0.44,0.83,-0.48,0.92,-0.43,1.01,-0.47,1.10,-0.44,1.19,-0.48,
0.52,-0.57,0.62,-0.53,0.72,-0.58,0.82,-0.54,0.92,-0.58,1.02,-0.53,1.12,-0.57,
0.45,0.32,0.55,0.28,0.65,0.33,0.75,0.28,0.85,0.32,0.95,0.28,1.05,0.33,
0.45,0.10,0.55,0.11,0.65,0.09,0.75,0.10,0.85,0.11,0.95,0.09,1.05,0.10,1.15,0.11,
0.40,0.00,0.50,-0.01,0.60,0.01,0.69,0.00,0.78,-0.01,0.87,0.01,0.96,0.00,1.05,0.01,1.14,-0.01,1.23,0.00,
0.39,-0.10,0.49,-0.11,0.58,-0.09,0.67,-0.10,0.76,-0.11,0.85,-0.09,0.94,-0.10,1.03,-0.11,1.12,-0.09,1.21,-0.10,
0.42,-0.20,0.52,-0.21,0.61,-0.19,0.70,-0.20,0.79,-0.21,0.88,-0.19,0.97,-0.20,1.06,-0.21,1.15,-0.19,1.24,-0.20,
0.45,-0.30,0.55,-0.31,0.64,-0.29,0.73,-0.30,0.82,-0.31,0.91,-0.29,1.00,-0.30,1.09,-0.31,1.18,-0.29,1.27,-0.30,
0.49,-0.40,0.59,-0.41,0.68,-0.39,0.77,-0.40,0.86,-0.41,0.95,-0.39,1.04,-0.40,1.13,-0.41,1.22,-0.39,
0.53,-0.50,0.63,-0.51,0.73,-0.49,0.83,-0.50,0.93,-0.51,1.03,-0.49,1.13,-0.50,
0.47,0.20,0.57,0.21,0.67,0.19,0.77,0.20,0.87,0.21,0.97,0.19,1.07,0.20
];
const pts_V = [
-0.05,-1.65,0.02,-1.71,0.01,-1.88,0.02,-1.96,-0.09,-1.95,0.06,-1.80,0.22,-1.69,0.25,-1.78,0.31,-1.84,0.36,-1.82,0.43,-1.82,0.44,-1.92,0.42,-1.96,0.31,-2.03,0.23,-2.13,0.06,-2.17,0.03,-2.31,0.03,-2.36,-0.09,-2.50,-0.02,-2.52,0.07,-2.48,0.19,-2.47,0.05,-2.66,0.08,-2.66,0.10,-2.82,0.15,-2.82,0.16,-2.88,-0.05,-3.27,0.22,-3.41,0.25,-3.44,-0.06,-3.51,0.29,-3.06,0.40,-3.11,0.44,-3.18,0.40,-3.19,0.51,-3.25,0.63,-3.22,0.53,-3.48,0.60,-3.48,0.45,-3.58,0.40,-3.69,0.66,-3.77,0.66,-3.84,0.75,-3.72,0.85,-3.95,0.83,-3.60,0.97,-3.66,1.01,-3.47,1.08,-3.47,1.17,-3.51,1.21,-3.55,0.94,-3.36,0.79,-3.44,0.87,-3.27,0.89,-3.27,0.71,-3.02,0.69,-2.96,0.74,-2.95,0.61,-2.97,0.87,-2.97,0.89,-2.89,0.84,-2.86,0.75,-2.89,0.75,-2.82,0.66,-2.85,0.98,-3.05,0.99,-3.12,1.05,-2.83,1.13,-2.78,1.13,-2.97,1.24,-2.86,1.26,-2.96,1.22,-3.15,1.35,-2.94,1.20,-2.65,1.17,-2.55,1.12,-2.44,1.07,-2.36,1.08,-2.26,0.89,-2.33,0.93,-2.43,0.89,-2.59,0.98,-2.59,0.81,-2.53,0.76,-2.56,0.70,-2.50,0.63,-2.56,0.53,-2.56,0.45,-2.53,0.56,-2.63,0.43,-2.71,0.40,-2.77,0.46,-2.75,0.51,-2.82,0.40,-2.89,0.61,-2.82,0.63,-2.48,0.57,-2.46,0.54,-2.50,0.65,-2.42,0.75,-2.42,0.75,-2.30,0.67,-2.30,0.61,-2.33,0.63,-2.40,0.55,-2.33,0.48,-2.30,0.43,-2.23,0.37,-2.28,0.36,-2.38,0.33,-2.30,0.29,-2.27,0.34,-2.20,0.42,-2.10,0.39,-2.17,0.29,-2.14,0.23,-2.25,0.06,-2.47,0.10,-2.54,0.35,-2.59,0.32,-2.82,0.60,-2.75,0.72,-2.92,0.82,-2.76,0.89,-2.76,1.05,-2.96,1.12,-3.05,0.99,-2.64,0.93,-2.51,1.03,-2.48,1.14,-2.52,1.22,-2.42,1.30,-2.33,1.26,-2.22,1.19,-2.19,1.07,-2.13,1.00,-2.06,0.94,-1.99,0.89,-1.96,0.79,-1.96,0.74,-1.90,0.68,-1.89,0.63,-1.91,0.57,-1.90,0.49,-1.90,0.58,-1.96,0.64,-2.02,0.79,-2.08,0.87,-2.08,0.93,-2.20,0.87,-2.16,0.82,-2.21,0.74,-2.21,0.75,-2.13,0.69,-2.14,1.13,-2.27,1.29,-1.90,1.31,-1.95,1.22,-1.88,1.13,-1.82,1.03,-1.82,0.93,-1.79,0.82,-1.81,0.79,-1.84,0.72,-1.89,0.67,-1.76,0.60,-1.81,0.51,-1.79,0.44,-1.82,0.37,-1.75,0.30,-1.71,0.34,-1.63,0.44,-1.64,0.55,-1.71,0.63,-1.71,0.75,-1.64,0.81,-1.63,0.84,-1.54,0.79,-1.54,0.89,-1.58,0.96,-1.61,1.03,-1.65,1.15,-1.63,1.20,-1.33,1.25,-1.34,1.39,-2.71,1.40,-2.75,1.51,-2.63,1.60,-2.46,1.36,-2.12,1.29,-2.10,1.25,-2.44,1.33,-2.94,2.28,-2.61,2.44,-1.98,2.53,-3.10,2.03,-3.12,2.09,-3.53,1.21,-3.14,0.89,-3.04,0.83,-2.88,0.51,-3.00,0.43,-3.09,0.34,-3.13,0.16,-3.19,0.22,-3.30,0.30,-3.34,0.41,-3.28,0.60,-3.33,0.74,-3.35,0.82,-3.38,0.99,-3.43,1.12,-3.54,0.68,-3.51,0.58,-3.61,0.80,-3.69,0.74,-3.82,0.53,-3.73,
0.10,-1.21,0.48,-1.02,0.60,-1.37,0.84,-1.33,
-0.57,-1.28,-0.60,-1.67,-0.50,-1.80,-0.21,-1.58,0.02,-1.64,-0.24,-1.92,-0.10,-1.96,-0.14,-2.03,-0.07,-2.03,0.02,-1.88,-0.55,-2.05,-1.04,-2.14,-0.69,-2.17,-0.27,-2.13,-0.18,-2.16,0.06,-2.17,0.04,-2.31,-0.09,-2.50,-0.02,-2.47,0.06,-2.49,0.04,-2.66,-0.24,-2.66,-0.30,-2.73,0.09,-2.82,-0.17,-3.13,-0.59,-3.32,-0.05,-3.51,
-1.73,1.53,-1.43,1.36
];
const pts_X = [
-1.06,1.65,-0.90,1.60,-0.99,1.29,-0.66,1.90,-0.53,1.88,-0.13,1.92,-0.06,1.90,-0.67,1.43,-0.56,1.45,-0.51,1.38,-0.31,1.34,-0.33,1.21,-0.49,1.24,-0.63,1.16,-0.89,1.11,-0.91,1.23,-0.54,1.13,-0.39,1.11,-0.46,1.03,-0.30,1.03,-0.25,1.15,-0.13,1.18,-0.06,1.08,0.00,1.16,-0.18,0.92,-0.32,0.90,-0.40,0.84,-0.56,0.75,-0.73,0.68,-0.78,0.35,-0.59,0.30,-0.46,0.42,-0.37,0.65,-0.25,0.68,-0.14,0.61,-0.05,0.70,0.03,0.61,0.06,0.75,-0.07,0.44,0.03,0.35,-0.03,0.27,-0.14,0.13,-0.25,0.20,-0.39,0.13,-0.53,0.17,-0.66,0.10,-1.06,-0.25,-1.02,0.17,-1.60,0.74,-1.65,0.16,-1.44,0.18,-0.87,-0.13,-0.77,-0.42,-0.59,-0.16,-0.32,-0.32,-1.19,-0.68,-2.69,0.20,
0.03,1.49,0.17,1.12,0.25,1.24,0.19,0.87,0.10,0.92,0.06,0.79,-0.02,1.03,-0.01,0.65,0.10,0.65,0.03,0.51,0.13,0.44,0.26,0.44,0.35,0.44,0.41,0.39,0.37,0.32,0.25,0.27,-0.04,0.27,-0.02,0.18,0.27,0.58,0.37,0.61,0.44,0.65,0.58,0.39,0.63,1.04,0.74,0.27,1.24,0.45,1.26,0.37,1.27,0.08,2.02,0.22,0.64,-0.32,0.55,-0.04,0.30,-0.15,0.25,-0.63,0.79,-0.77,
0.69,-1.23,1.33,-1.47,2.35,-1.31,0.32,-2.65,-0.78,-1.20,
-0.45,0.55,-0.35,0.35,-0.20,0.45,-0.10,0.80,-0.25,1.00,-0.40,1.25,-0.15,0.20,0.00,0.40,0.10,0.28,-0.05,0.90,-0.30,0.75,-0.55,0.60,-0.70,0.85,-0.60,1.00,-0.20,1.35,0.15,0.65
];
const pts_D = [
0.44,2.0,0.76,1.92,0.57,1.87,0.82,1.82,0.10,1.86,0.18,1.76,0.30,1.73,0.41,1.74,-0.01,1.72,-0.01,1.65,0.07,1.60,0.28,1.62,0.37,1.61,0.44,1.66,0.45,1.63,0.54,1.53,0.50,1.50,0.66,1.55,0.73,1.55,0.81,1.55,0.92,1.54,1.14,1.57,1.07,1.50,1.0,1.44,1.07,1.41,1.29,1.40,1.58,1.42,1.62,1.06,1.77,0.89,1.39,0.94,0.83,1.12,0.92,1.13,0.69,1.21,0.62,1.32,0.51,1.29,0.41,1.13,0.30,1.03,0.25,0.97,0.10,1.41,0.03,1.27,0.06,1.23,0.13,1.30,0.29,1.24,0.41,1.35,0.47,1.42,0.56,1.44,0.63,1.49,0.72,1.49,0.79,1.46,0.94,1.07,0.34,0.90,0.44,0.77,-0.04,1.53,0.34,1.13,1.52,-0.59,0.74,0.33,0.94,0.20,0.27,0.08,0.58,0.13,0.43,1.23,1.10,0.85,0.53,0.90,
-0.54,1.93,-0.44,1.97,-0.61,1.69,-0.56,1.74,-0.73,1.60,-0.63,1.58,-0.25,1.71,-0.19,1.72,-0.01,1.73,0.03,1.66,-0.12,1.54,-0.03,1.54,-0.18,1.47,0.0,1.41,0.02,1.27,0.06,1.21,-0.01,1.16,-0.06,1.09,-0.21,1.16,0.03,0.96,-0.19,0.65,-0.32,0.65,-0.18,0.85,-1.62,-0.10,-0.66,0.26,1.0,1.94,
0.20,1.50,0.35,1.40,0.60,1.65,0.70,1.75,0.85,1.68,0.25,1.90,0.40,1.85,0.55,1.98,0.15,1.15,0.38,1.05,0.48,1.22,0.08,1.00
];
const pts_L = [
0.17,1.93,0.98,1.92,1.12,1.92,1.62,1.71,1.51,1.37,1.57,1.17,1.30,1.03,1.20,1.06,1.24,0.99,1.19,0.92,1.16,0.96,1.50,1.01,1.48,0.92,1.67,0.67,1.50,0.65,2.12,0.47,2.16,0.19,2.03,0.09,1.85,0.10,2.48,-0.56,1.01,1.24,1.03,1.30,0.93,1.22,0.82,1.13,0.68,0.94,0.81,0.94,0.93,0.89,1.05,0.80,1.15,0.70,1.27,0.52,1.38,0.28,1.17,0.30,1.03,0.41,0.88,0.51,0.75,0.61,0.60,0.70,0.48,0.61,0.37,0.52,0.30,0.65,0.17,0.89,0.34,1.70,0.30,1.45,0.21,1.39,0.44,1.06,0.55,1.03,0.63,0.95,0.89,0.65,0.99,0.49,1.12,0.41,1.24,0.20,1.41,0.08,1.31,-0.04,1.10,-0.01,0.79,0.20,0.65,0.27,0.46,0.34,0.34,0.41,0.49,0.20,0.13,0.34,-0.04,-0.99,
-0.39,1.70,-0.48,1.35,-0.74,1.36,-0.42,1.03,-0.23,0.96,-0.67,0.93,-0.04,0.87,0.05,1.01,-0.12,0.73,-0.03,0.65,-0.63,0.51,0.03,0.51,-0.51,-0.63,
-0.03,-1.0,0.52,-1.08,1.48,-1.04,0.99,-1.38,1.12,-2.08,0.76,-2.20,
0.60,0.50,0.72,0.40,0.85,0.30,0.55,0.05,0.70,-0.10,0.95,0.60,1.05,0.15,0.40,0.20,0.25,0.50,0.80,0.85,0.50,0.95,0.65,1.10
];
const pts_Q = [
0.06,-1.13,0.10,-1.12,0.17,-0.95,0.22,-0.97,0.27,-1.01,0.34,-1.10,0.43,-1.16,0.52,-1.13,0.55,-1.16,0.65,-1.23,0.81,-1.29,0.70,-1.52,0.82,-1.66,0.84,-1.71,0.80,-1.79,0.66,-1.69,0.50,-1.90,0.92,-1.61,1.10,-1.48,1.05,-2.02,0.39,-2.22,0.27,-2.24,0.49,-2.29,0.65,-2.84,0.67,-3.11,1.0,-3.12,0.16,-3.43,-0.06,-1.78,0.0,-1.46,0.13,-1.51,0.24,-1.52,0.14,-1.58,0.33,-1.64,0.43,-1.54,0.37,-1.40,0.23,-1.41,0.53,-1.42,1.44,-1.86,1.69,-1.32,1.56,-1.37,2.11,-1.58,2.16,-2.08,2.12,-3.34,2.95,-1.64,1.14,-1.01,1.08,-1.09,1.41,-1.26,
-0.08,-0.32,-0.01,-0.35,0.08,-0.34,0.17,-0.42,0.24,-0.49,0.05,-0.56,-0.04,-0.66,0.10,-0.70,0.24,-0.73,0.34,-0.59,0.41,-0.37,0.30,-0.25,0.25,-0.01,0.37,0.13,0.20,0.15,0.03,0.03,0.50,0.02,0.58,-0.22,0.65,-0.32,0.75,-0.48,0.86,-0.57,0.68,-0.61,0.58,-0.70,0.48,-0.77,0.37,-0.87,0.25,-0.94,0.11,-0.90,-0.01,-0.97,1.03,-0.70,1.13,-0.73,1.07,-0.94,1.58,-0.73,1.69,-0.90,1.81,-0.49,1.93,-0.73,0.63,0.44,0.75,0.78,0.26,1.82,0.53,1.76,0.80,1.01,1.20,0.16,1.12,-0.02,
-1.19,1.80,-0.19,1.65,-0.22,1.25,-0.87,1.16,-1.75,0.23,-0.63,0.25,-0.73,0.34,-0.95,0.70,-0.56,0.0,-0.59,-0.02,-0.13,0.06,-0.12,-0.16,-0.01,-0.23,0.03,-0.32,-0.04,-0.39,0.05,-0.46,-0.21,-0.75,-1.02,-0.80,0.02,-0.90,
-0.28,-0.99,-0.25,-1.02,-0.19,-1.14,0.05,-1.28,0.06,-1.13,0.0,-1.46,-0.11,-1.63,-0.06,-1.78,0.06,-1.81,-0.74,-2.13,-0.13,-2.05,-0.13,-2.28,-0.23,-2.65,
0.30,-0.80,0.38,-1.05,0.20,-1.20,0.45,-0.95,0.15,-0.60,0.40,-0.65,0.28,-0.55,0.52,-0.85,0.12,-1.00,0.35,-1.30,0.25,-1.10,0.50,-1.30,0.60,-1.00,0.05,-0.75,0.18,-0.85,0.42,-0.45,0.32,-0.35,0.55,-0.55
];
const pts_A = [-0.05,1.54,0.96,1.26,1.17,0.82,1.51,0.82,1.77,0.34,1.89,0.32,1.84,0.04,2.16,-0.29,1.27,-0.65,1.58,-0.53,0.58,-0.10,1.77,-1.10,1.10,-1.38,1.95,-1.68,2.33,-1.61];
const pts_O = [-1.21,1.27,-1.89,0.85,-1.10,0.60,-0.26,-0.99,-0.24,-1.27];

// ---------- marginal histograms (bin heights) ----------
const topBinStart = -3.0, topBinWidth = 0.173;        // 35 bins along x
const rightBinStart = -4.046, rightBinWidth = 0.1133; // 54 bins along y
const histTop_C = [0.5,0.8,1.2,1.5,2.7,5.3,16.7,25,53.7,74.3,82.7,83.7,72,60.3,47.7,30,24,12,6,4,3,2,1.5,1.2,1,0.8,0.6,0.5,0.4,0.3,0.3,0.2,0.2,0.2,0.3];
const histTop_S = [0,0,0,0,0,0,0,0,0,0.5,0.7,1,1.5,2,3,5,10,21.7,39.3,66,94,92.7,91,62.3,40.7,20,9,6.7,4,2.5,1.5,1,0.7,0.5,0.3];
const histTop_X = [0,0,0,0,0,0,0,0,0.5,1,2,3,5,7,10,12,14,13,11,8,5,3,2,1,0.5,0,0,0,0,0,0,0,0,0,0];
const histTop_Q = [0,0,0,0,0,0,0,0,0,0,0,0,0,1,2,5,10,16,21,22,17,12,8,5,3,2,1,0.5,0.3,0.3,0.2,0,0,0,0];
const histTop_L = [0,0,0,0,0,0,0,0,0,0,0,0,0,0,0,1,2,5,9,14,17,18,15,12,8,6,4,3,2,1,0.8,0.5,0,0,0];
const histTop_V = [0,0,0,0,0,0,0,0,0,0,0,0,0,0,0,0,1,3,6,11,16,17,14,9,5,3,2,1,1,0.5,0,0,0,0,0];
const histTop_D = [0,0,0,0,0,0,0,0,0,0,0,0,1,2,4,6,8,10,10,9,7,5,3,2,1,0,0,0,0,0,0,0,0,0,0];
const histTop_A = [0,0,0,0,0,0,0,0,0,0,0,0,0,0,0,0,0,0,0,0,0,0,1,1,1.5,1,1,1,0.5,0,0,0,0,0,0];
const histTop_O = [0,0,0,0,0,0.5,0,0,0,0,0.5,0,0,0,0.5,0,0,0,0,0,0,0,0,0,0,0,0,0,0,0,0,0,0,0,0];

const histRight_C = [0,0,0,0,0,0,0.3,0.3,0.3,0.3,0.3,0.3,0.5,0.5,0.5,0.5,0.5,0.5,0.5,1,1,1.5,2,2,3,4,5,7,9,11,20,31,27,47,42,63,59,75,82,83,78,48,55,45,33,27,22,14,11,7,6,5,4,3];
const histRight_S = [0,0,0,0,0,0,0,0.3,0.3,0.3,0.3,0.5,0.5,0.5,0.5,0.5,0.5,0.5,1,1,1.5,2,3,4,5,7,12,14,21,42,53,70,86,75,89,93,77,56,42,22,22,15,14,11,8,6,5,5,4,3,3,2.5,2,1.5];
const histRight_L = [0,0,0,0,0,0,0,0,0,0,0,0,0,0,0,0,0,0,0,0,0,0,0,0,0,0,0,0,0,0,0,0,0,1,2,3,5,8,11,15,17,16,12,8,4,2,1,0,0,0,0,0,0,0];
const histRight_X = [0,0,0,0,0,0,0,0,0,0,0,0,0,0,0,0,0,0,0,0,0,0,0,0,0,0,0,0,0,0,1,1,2,3,4,6,7,9,10,11,11,11,10,9,8,7,5,4,3,2,2,0,0,0];
const histRight_D = [0,0,0,0,0,0,0,0,0,0,0,0,0,0,0,0,0,0,0,0,0,0,0,0,0,0,0,0,0,0,0,0,0,0,0,0,0,1,1,2,2,3,4,5,6,7,7,8,8,8,7,6,5,3];
const histRight_Q = [0,0,0,0,0,0,0,0,0,0,0,0,0,0,0,0,0,0,0,0,0,0,1,1,2,3,4,5,7,9,10,11,11,10,9,8,7,6,5,4,3,2,2,1,1,0,0,0,0,0,0,0,0,0];
const histRight_V = [0,0,0,0,0,0,1,1,2,2,3,4,5,12,6,6,7,8,14,9,7,6,5,5,4,3,2,0,0,0,0,0,0,0,0,0,0,0,0,0,0,0,0,0,0,0,0,0,0,0,0,0,0,0];
const histRight_A = [0,0,0,0,0,0,0,0,0,0,0,0,0,0,0,0,0,0,0,0,0,0,0,0,0.5,0,0,1,0,0,1,0,0,1,0,0,1,0,1,0,0,1,0,0,0,0,0,0,0,0,0,0,0,0];
const histRight_O = [0,0,0,0,0,0,0,0,0,0,0,0,0,0,0,0,0,0,0,0,0,0,0,0,0,0,0,0.5,0,0,0,0,0,0,0,0,0.5,0,0,0,0,0.5,0,0,0.5,0,0,0,0,0,0,0,0,0];

// ---------- marginal density curves ----------
const kdeTop_C = [[-3,0.8],[-2.67,1.5],[-2.48,2.5],[-2.28,5],[-2.08,10],[-1.92,16],[-1.8,24],[-1.64,42],[-1.48,63],[-1.32,77],[-1.145,81],[-0.97,76],[-0.77,64],[-0.57,52],[-0.41,41],[-0.24,30],[-0.07,18],[0.11,11],[0.28,7.3],[0.63,4.3],[0.98,2.7],[1.5,1.3],[1.92,1],[2.5,0.6],[3,0.4]];
const kdeTop_S = [[-3,0],[-2,0.4],[-1.5,1],[-1,2],[-0.577,4.3],[-0.41,6.3],[-0.24,10],[-0.07,16.5],[0.11,31],[0.28,55],[0.45,80],[0.59,91.7],[0.705,94.3],[0.835,91.7],[0.97,80],[1.14,58.3],[1.31,36.7],[1.49,21.7],[1.66,11.7],[1.83,5.7],[2.0,3.5],[2.3,1.7],[2.6,0.8],[3,0.3]];
const kdeTop_X = [[-3,0.1],[-2,0.6],[-1.5,1.2],[-1.0,3.7],[-0.577,9],[-0.4,11.5],[-0.24,13.3],[-0.07,14],[0.11,12.3],[0.28,9],[0.45,6.3],[0.63,4],[0.8,2.3],[1.0,1.3],[1.3,0.5],[2,0.1],[3,0]];
const kdeTop_Q = [[-3,0],[-1.5,0.3],[-1,0.8],[-0.5,2],[-0.2,6],[-0.07,10],[0.11,19],[0.28,21],[0.45,20],[0.63,16.7],[0.8,11.7],[0.98,7.7],[1.14,5],[1.31,3.3],[1.6,1.5],[2,0.6],[2.5,0.2],[3,0.1]];
const kdeTop_L = [[-3,0],[-1,0.5],[-0.5,1.5],[-0.2,3.5],[0.11,8],[0.28,12.3],[0.45,16],[0.7,17.7],[0.98,15],[1.14,11.7],[1.31,8.3],[1.49,6],[1.66,4.3],[1.83,3],[2.1,1.8],[2.5,0.8],[3,0.3]];
const kdeTop_V = [[-3,0],[-1,0.3],[-0.5,1],[-0.2,2.5],[0.11,5],[0.28,8.3],[0.45,13],[0.65,16.7],[0.8,15],[0.98,11],[1.14,7.3],[1.31,4.7],[1.49,3],[1.8,1.5],[2.2,0.8],[2.6,0.4],[3,0.2]];
const kdeTop_D = [[-3,0],[-1.5,0.3],[-1.0,1],[-0.8,1.5],[-0.5,3.5],[-0.24,6],[-0.07,7.7],[0.11,9.3],[0.28,9.7],[0.45,8.3],[0.63,6.3],[0.8,4.3],[0.98,3],[1.14,2],[1.5,0.9],[2,0.3],[3,0]];
const kdeTop_A = [[-3,0],[0,0.2],[0.5,0.6],[1.0,1.0],[1.5,1.3],[1.9,1.2],[2.3,0.6],[2.8,0.2],[3,0.1]];
const kdeTop_O = [[-3,0],[-2,0.1],[-1.2,0.4],[-0.6,0.4],[-0.2,0.3],[0.3,0.1],[3,0]];

const kdeRight_C = [[2.0,3.3],[1.72,7.3],[1.51,11],[1.30,19],[1.10,29],[0.89,44],[0.69,60.7],[0.52,72.3],[0.37,75],[0.23,73],[0.09,65.7],[-0.04,57.3],[-0.18,49],[-0.32,40.7],[-0.46,30.7],[-0.59,22.3],[-0.73,15.7],[-0.87,10.7],[-1.0,7.3],[-1.3,4],[-1.6,2],[-2.0,0.7],[-2.5,0.2],[-3,0.05],[-4,0]];
const kdeRight_S = [[2.0,1.3],[1.72,3.3],[1.38,6],[1.03,9],[0.83,12.3],[0.69,16.7],[0.55,27.3],[0.41,39],[0.27,52.3],[0.13,67.3],[-0.01,79],[-0.14,84],[-0.28,82.3],[-0.42,75.7],[-0.55,65.7],[-0.69,50.7],[-0.83,34],[-0.97,20.7],[-1.1,13],[-1.25,9],[-1.5,6],[-1.9,2.8],[-2.33,1.2],[-3,0.3],[-4,0.05]];
const kdeRight_L = [[2,0.3],[1.6,1],[1.4,2],[1.1,5],[0.9,10],[0.75,15],[0.62,17],[0.5,15],[0.35,10],[0.2,6],[0,3.5],[-0.3,2],[-0.6,1],[-1,0.4],[-2,0.1],[-4,0]];
const kdeRight_X = [[2,1.5],[1.5,2.5],[1.2,5],[0.9,8],[0.6,10.5],[0.4,11],[0.2,9.5],[0,7],[-0.2,4.5],[-0.5,2],[-0.8,1],[-1.2,0.5],[-2,0.1],[-4,0]];
const kdeRight_D = [[2,3.3],[1.72,6],[1.38,8],[1.1,7.3],[0.83,5],[0.55,2.7],[0.27,1.3],[0,0.7],[-0.5,0.3],[-1,0.1],[-4,0]];
const kdeRight_Q = [[2,0.5],[1.5,1],[1.0,1.5],[0.5,3.5],[0.2,6],[0,8],[-0.2,10],[-0.4,11],[-0.6,10],[-0.8,7],[-1.0,4.5],[-1.3,2],[-1.7,0.8],[-2.2,0.4],[-3,0.2],[-4,0]];
const kdeRight_V = [[2,0],[0,0.3],[-0.5,0.5],[-1.0,1],[-1.5,2.5],[-2.0,3.5],[-2.4,3.8],[-2.8,3],[-3.2,2],[-3.6,1],[-4,0.5]];
const kdeRight_A = [[2,0],[1.5,0.3],[0.5,0.8],[0,1],[-0.6,1],[-1.3,0.8],[-2,0.3],[-4,0]];
const kdeRight_O = [[2,0],[1.5,0.1],[1,0.3],[0.5,0.3],[-1,0.3],[-1.5,0.1],[-4,0]];

// ---------- styling ----------
const palette = {S:'#00b7c8',C:'#f5141e',V:'#b2f5cd',X:'#55c21b',D:'#fcd20b',L:'#bb97d3',Q:'#c4ab78',A:'#fc9b46',O:'#f72b9f'};
const FONT = '"DejaVu Sans Mono", monospace';
const INK = '#262626';

const ptsBy = {S:pts_S,C:pts_C,V:pts_V,X:pts_X,D:pts_D,L:pts_L,Q:pts_Q,A:pts_A,O:pts_O};
const histTopBy = {S:histTop_S,C:histTop_C,V:histTop_V,X:histTop_X,D:histTop_D,L:histTop_L,Q:histTop_Q,A:histTop_A,O:histTop_O};
const histRightBy = {S:histRight_S,C:histRight_C,V:histRight_V,X:histRight_X,D:histRight_D,L:histRight_L,Q:histRight_Q,A:histRight_A,O:histRight_O};
const kdeTopBy = {S:kdeTop_S,C:kdeTop_C,V:kdeTop_V,X:kdeTop_X,D:kdeTop_D,L:kdeTop_L,Q:kdeTop_Q,A:kdeTop_A,O:kdeTop_O};
const kdeRightBy = {S:kdeRight_S,C:kdeRight_C,V:kdeRight_V,X:kdeRight_X,D:kdeRight_D,L:kdeRight_L,Q:kdeRight_Q,A:kdeRight_A,O:kdeRight_O};

function pairs(a){const r=[];for(let i=0;i+1<a.length;i+=2)r.push([a[i],a[i+1]]);return r;}
function rgba(hex,a){const n=parseInt(hex.slice(1),16);return 'rgba('+((n>>16)&255)+','+((n>>8)&255)+','+(n&255)+','+a+')';}
function minusFmt(v){return v<0?'\u2212'+Math.abs(v):String(v);}

const scatterOrder = ['C','S','V','Q','L','D','X','A','O'];
const layerOrder = ['C','S','V','Q','L','X','D','A','O'];

const series = [];
scatterOrder.forEach(c=>{
  series.push({type:'scatter',name:c,xAxisIndex:0,yAxisIndex:0,data:pairs(ptsBy[c]),symbol:'circle',symbolSize:5,
    itemStyle:{color:palette[c],opacity:1},silent:true,z:2,animation:false});
});
layerOrder.forEach(c=>{
  const col = palette[c];
  const topData = histTopBy[c].map((v,i)=>[topBinStart+i*topBinWidth, topBinStart+(i+1)*topBinWidth, v]).filter(d=>d[2]>0);
  series.push({type:'custom',name:c,xAxisIndex:1,yAxisIndex:1,data:topData,encode:{x:[0,1],y:2},silent:true,z:3,
    renderItem:(p,api)=>{const a=api.coord([api.value(0),api.value(2)]);const b=api.coord([api.value(1),0]);
      return {type:'rect',shape:{x:a[0],y:a[1],width:b[0]-a[0],height:b[1]-a[1]},style:{fill:rgba(col,0.48),stroke:'rgba(255,255,255,0.55)',lineWidth:1}};}});
  const rightData = histRightBy[c].map((v,i)=>[rightBinStart+i*rightBinWidth, rightBinStart+(i+1)*rightBinWidth, v]).filter(d=>d[2]>0);
  series.push({type:'custom',name:c,xAxisIndex:2,yAxisIndex:2,data:rightData,encode:{x:2,y:[0,1]},silent:true,z:3,
    renderItem:(p,api)=>{const a=api.coord([0,api.value(1)]);const b=api.coord([api.value(2),api.value(0)]);
      return {type:'rect',shape:{x:a[0],y:a[1],width:b[0]-a[0],height:b[1]-a[1]},style:{fill:rgba(col,0.48),stroke:'rgba(255,255,255,0.55)',lineWidth:1}};}});
});
layerOrder.slice().reverse().forEach(c=>{
  series.push({type:'line',name:c,xAxisIndex:1,yAxisIndex:1,data:kdeTopBy[c],smooth:0.35,showSymbol:false,symbol:'none',
    lineStyle:{color:palette[c],width:2.2},itemStyle:{color:palette[c]},silent:true,z:5,animation:false});
  series.push({type:'line',name:c,xAxisIndex:2,yAxisIndex:2,data:kdeRightBy[c].map(d=>[d[1],d[0]]),smooth:0.35,showSymbol:false,symbol:'none',
    lineStyle:{color:palette[c],width:2.2},itemStyle:{color:palette[c]},silent:true,z:5,animation:false});
});

const axisLineStyle = {color:'#333',width:1.5};
const subRich = {
  m:{fontFamily:FONT,fontSize:19,color:INK,verticalAlign:'top',lineHeight:19,padding:[0,0,4,0]},
  s:{fontFamily:FONT,fontSize:14,fontStyle:'italic',color:INK,verticalAlign:'bottom',lineHeight:14}
};

const option = {
  animation:false,
  backgroundColor:'#fff',
  grid:[
    {left:107,top:146,width:578,height:580},
    {left:107,top:26,width:578,height:99},
    {left:706,top:146,width:110,height:580}
  ],
  xAxis:[
    {gridIndex:0,type:'value',min:xTicks[0],max:xTicks[xTicks.length-1],interval:1,
      axisLine:{show:true,onZero:false,lineStyle:axisLineStyle},axisTick:{show:true,length:7,lineStyle:axisLineStyle},
      splitLine:{show:false},axisLabel:{fontFamily:FONT,fontSize:18,color:INK,margin:12,formatter:minusFmt},
      name:'{m|(H}{s|g}{m|-H}{s|i}{m|)}{s|w}',nameLocation:'middle',nameGap:48,nameTextStyle:{rich:subRich}},
    {gridIndex:1,type:'value',min:xTicks[0],max:xTicks[xTicks.length-1],interval:1,
      axisLine:{show:true,onZero:false,lineStyle:axisLineStyle},axisTick:{show:true,length:7,lineStyle:axisLineStyle},
      splitLine:{show:false},axisLabel:{show:false}},
    {gridIndex:2,type:'value',min:0,max:110,show:false,splitLine:{show:false}}
  ],
  yAxis:[
    {gridIndex:0,type:'value',min:yTicks[0],max:yTicks[yTicks.length-1],interval:1,
      axisLine:{show:true,onZero:false,lineStyle:axisLineStyle},axisTick:{show:true,length:7,lineStyle:axisLineStyle},
      splitLine:{show:false},axisLabel:{fontFamily:FONT,fontSize:18,color:INK,margin:15,formatter:minusFmt},
      name:'{m|(H}{s|i}{m|-H}{s|z}{m|)}{s|w}',nameLocation:'middle',nameGap:52,nameRotate:90,nameTextStyle:{rich:subRich}},
    {gridIndex:1,type:'value',min:0,max:99,show:false,splitLine:{show:false}},
    {gridIndex:2,type:'value',min:yTicks[0],max:yTicks[yTicks.length-1],interval:1,
      axisLine:{show:true,onZero:false,lineStyle:axisLineStyle},axisTick:{show:true,length:7,lineStyle:axisLineStyle},
      splitLine:{show:false},axisLabel:{show:false}}
  ],
  legend:{
    data:categories.map(c=>({name:c,icon:'circle',itemStyle:{color:palette[c]}})),
    orient:'vertical',left:118,top:392,itemWidth:12,itemHeight:12,itemGap:13.5,
    padding:[42,12,12,24],
    backgroundColor:'rgba(255,255,255,0.8)',borderColor:'#d4d4d4',borderWidth:1.2,borderRadius:4,
    selectedMode:false,z:10,
    formatter:n=>'{sp|}{t|'+n+'}',
    textStyle:{rich:{sp:{width:28},t:{fontFamily:FONT,fontSize:18,color:INK,lineHeight:14}}}
  },
  graphic:[{type:'text',x:165,y:410,z:100,zlevel:0,
    style:{text:'tax',fontFamily:FONT,fontSize:21,fill:INK,align:'center',verticalAlign:'middle'}}],
  series:series
};
const chart = echarts.init(document.getElementById('c'),null,{renderer:'canvas'});
chart.setOption(option);
</script></body></html>
